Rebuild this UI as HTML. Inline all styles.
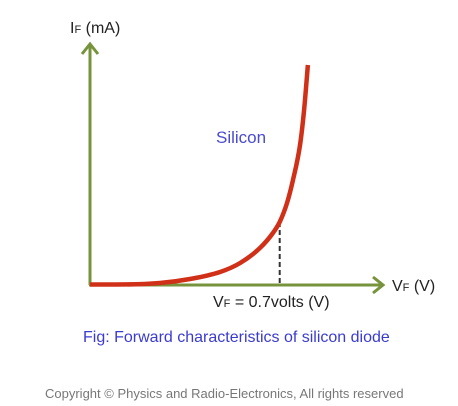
<!DOCTYPE html>
<html><head><meta charset="utf-8"><style>
body{margin:0;background:#fff;width:458px;height:406px;overflow:hidden;font-family:"Liberation Sans",sans-serif}
svg{display:block}
</style></head><body>
<svg width="458" height="406">
<g id="axes">
<line x1="90" y1="285" x2="90" y2="46" stroke="#77933c" stroke-width="3"/>
<polyline points="82,54 90,44 98,54" fill="none" stroke="#77933c" stroke-width="3"/>
<line x1="89" y1="285" x2="382" y2="285" stroke="#77933c" stroke-width="3"/>
<polyline points="373,277 383,285 373,293" fill="none" stroke="#77933c" stroke-width="3"/>
</g>
<g id="plot"></g>
<text x="70" y="33" font-size="16" fill="#222">I<tspan font-size="11">F</tspan> (mA)</text>
<text x="392" y="291" font-size="16" fill="#222">V<tspan font-size="11">F</tspan> (V)</text>
<text x="213" y="307" font-size="16" fill="#222">V<tspan font-size="11">F</tspan> = 0.7volts (V)</text>
<text x="216" y="143" font-size="17" fill="#4a4ad0">Silicon</text>
<text x="83" y="342" font-size="16" fill="#3b3bd0">Fig: Forward characteristics of silicon diode</text>
<text x="45" y="398" font-size="13" fill="#777">Copyright © Physics and Radio-Electronics, All rights reserved</text>
</svg>
<script>
const voltage=[0,0.1,0.258,0.369,0.48,0.554,0.627,0.675,0.70,0.727,0.749,0.775,0.79,0.804];
const current=[0.05,0.05,0.2,0.6,1.3,2.2,3.7,5.2,6.3,8.2,10.5,14,17.5,22];
const thresholdV=[0.7];
const xs=v=>90+v*271, ys=i=>285-i*10;
const g=document.getElementById('plot'),NS='http://www.w3.org/2000/svg';
function curAt(v){for(let k=1;k<voltage.length;k++){if(v<=voltage[k]){const t=(v-voltage[k-1])/(voltage[k]-voltage[k-1]);return current[k-1]+t*(current[k]-current[k-1]);}}return current[current.length-1];}
const dl=document.createElementNS(NS,'line');
dl.setAttribute('x1',xs(thresholdV[0]));dl.setAttribute('x2',xs(thresholdV[0]));
dl.setAttribute('y1',ys(curAt(thresholdV[0])));dl.setAttribute('y2',ys(0));
dl.setAttribute('stroke','#333');dl.setAttribute('stroke-width','2');dl.setAttribute('stroke-dasharray','5,3');


g.appendChild(dl);
// monotone cubic (Fritsch-Carlson) in pixel space
const X=voltage.map(xs),Y=current.map(ys),n=X.length;
const dk=[],m=[];
for(let k=0;k<n-1;k++)dk.push((Y[k+1]-Y[k])/(X[k+1]-X[k]));
m[0]=dk[0];m[n-1]=dk[n-2];
for(let k=1;k<n-1;k++){m[k]=(dk[k-1]*dk[k]<=0)?0:(dk[k-1]+dk[k])/2;}
for(let k=0;k<n-1;k++){if(dk[k]===0){m[k]=0;m[k+1]=0;continue;}const a=m[k]/dk[k],b=m[k+1]/dk[k],s=a*a+b*b;if(s>9){const t=3/Math.sqrt(s);m[k]=t*a*dk[k];m[k+1]=t*b*dk[k];}}
let d='M'+X[0]+','+Y[0];
for(let k=0;k<n-1;k++){const h=(X[k+1]-X[k])/3;d+=' C'+(X[k]+h)+','+(Y[k]+m[k]*h)+' '+(X[k+1]-h)+','+(Y[k+1]-m[k+1]*h)+' '+X[k+1]+','+Y[k+1];}
const c=document.createElementNS(NS,'path');
c.setAttribute('d',d);c.setAttribute('fill','none');c.setAttribute('stroke','#d03018');c.setAttribute('stroke-width','4.5');


g.appendChild(c);
</script>
</body></html>
